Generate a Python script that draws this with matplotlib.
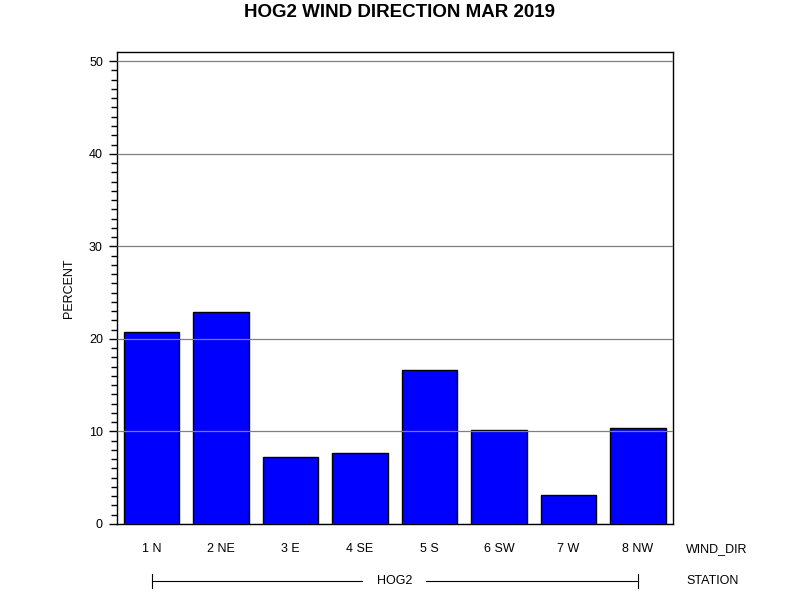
import numpy as np
import matplotlib
matplotlib.use("Agg")
import matplotlib.pyplot as plt
import matplotlib.transforms as mtransforms

# datos
wind_dir = ["1 N", "2 NE", "3 E", "4 SE", "5 S", "6 SW", "7 W", "8 NW"]
percent = [20.7, 22.9, 7.2, 7.7, 16.6, 10.2, 3.1, 10.4]
station = "HOG2"

plt.rcParams['font.family'] = ['Liberation Sans', 'DejaVu Sans']

fig = plt.figure(figsize=(8, 6), dpi=100)
ax = fig.add_axes([0.146, 0.1267, 0.695, 0.7867])

x = np.arange(len(wind_dir))
ax.bar(x, percent, width=0.8, color="#0000ff", edgecolor="black", linewidth=1.0, zorder=2)

ax.set_xlim(-0.5, len(wind_dir) - 0.5)
ax.set_ylim(0, 51)
ax.set_yticks(np.arange(0, 51, 10))
ax.set_yticks(np.arange(0, 51, 1), minor=True)
ax.yaxis.grid(True, color="#808080", linewidth=0.9, zorder=3)
ax.set_axisbelow(False)
ax.tick_params(axis="y", which="major", length=6, width=1, labelsize=9, pad=4)
ax.tick_params(axis="y", which="minor", length=4, width=1)
ax.set_xticks(x)
ax.set_xticklabels(wind_dir, fontsize=9)
ax.tick_params(axis="x", length=0, pad=14)
for s in ax.spines.values():
    s.set_linewidth(1.0)

ax.set_ylabel("PERCENT", fontsize=9, labelpad=10)

fig.text(0.5, 1 - 4 / 600, "HOG2 WIND DIRECTION MAR 2019", ha="center", va="top",
         fontsize=13.5, fontweight="bold")

# etiquetas de los ejes de grupo
fig.text(686 / 800, 1 - 549 / 600, "WIND_DIR", ha="left", va="center", fontsize=9)
fig.text(686 / 800, 1 - 581 / 600, "STATION", ha="left", va="center", fontsize=9)

# linea de la estacion
trans = mtransforms.blended_transform_factory(ax.transData, fig.transFigure)
yl = 1 - 581 / 600
ax.plot([x[0], x[-1]], [yl, yl], color="black", linewidth=0.8, transform=trans, clip_on=False)
for xx in (x[0], x[-1]):
    ax.plot([xx, xx], [yl - 0.012, yl + 0.012], color="black", linewidth=0.8,
            transform=trans, clip_on=False)
ax.text((x[0] + x[-1]) / 2, yl, station, ha="center", va="center", fontsize=9,
        transform=trans, bbox=dict(facecolor="white", edgecolor="none", pad=10))

fig.savefig("out.png", dpi=100)
